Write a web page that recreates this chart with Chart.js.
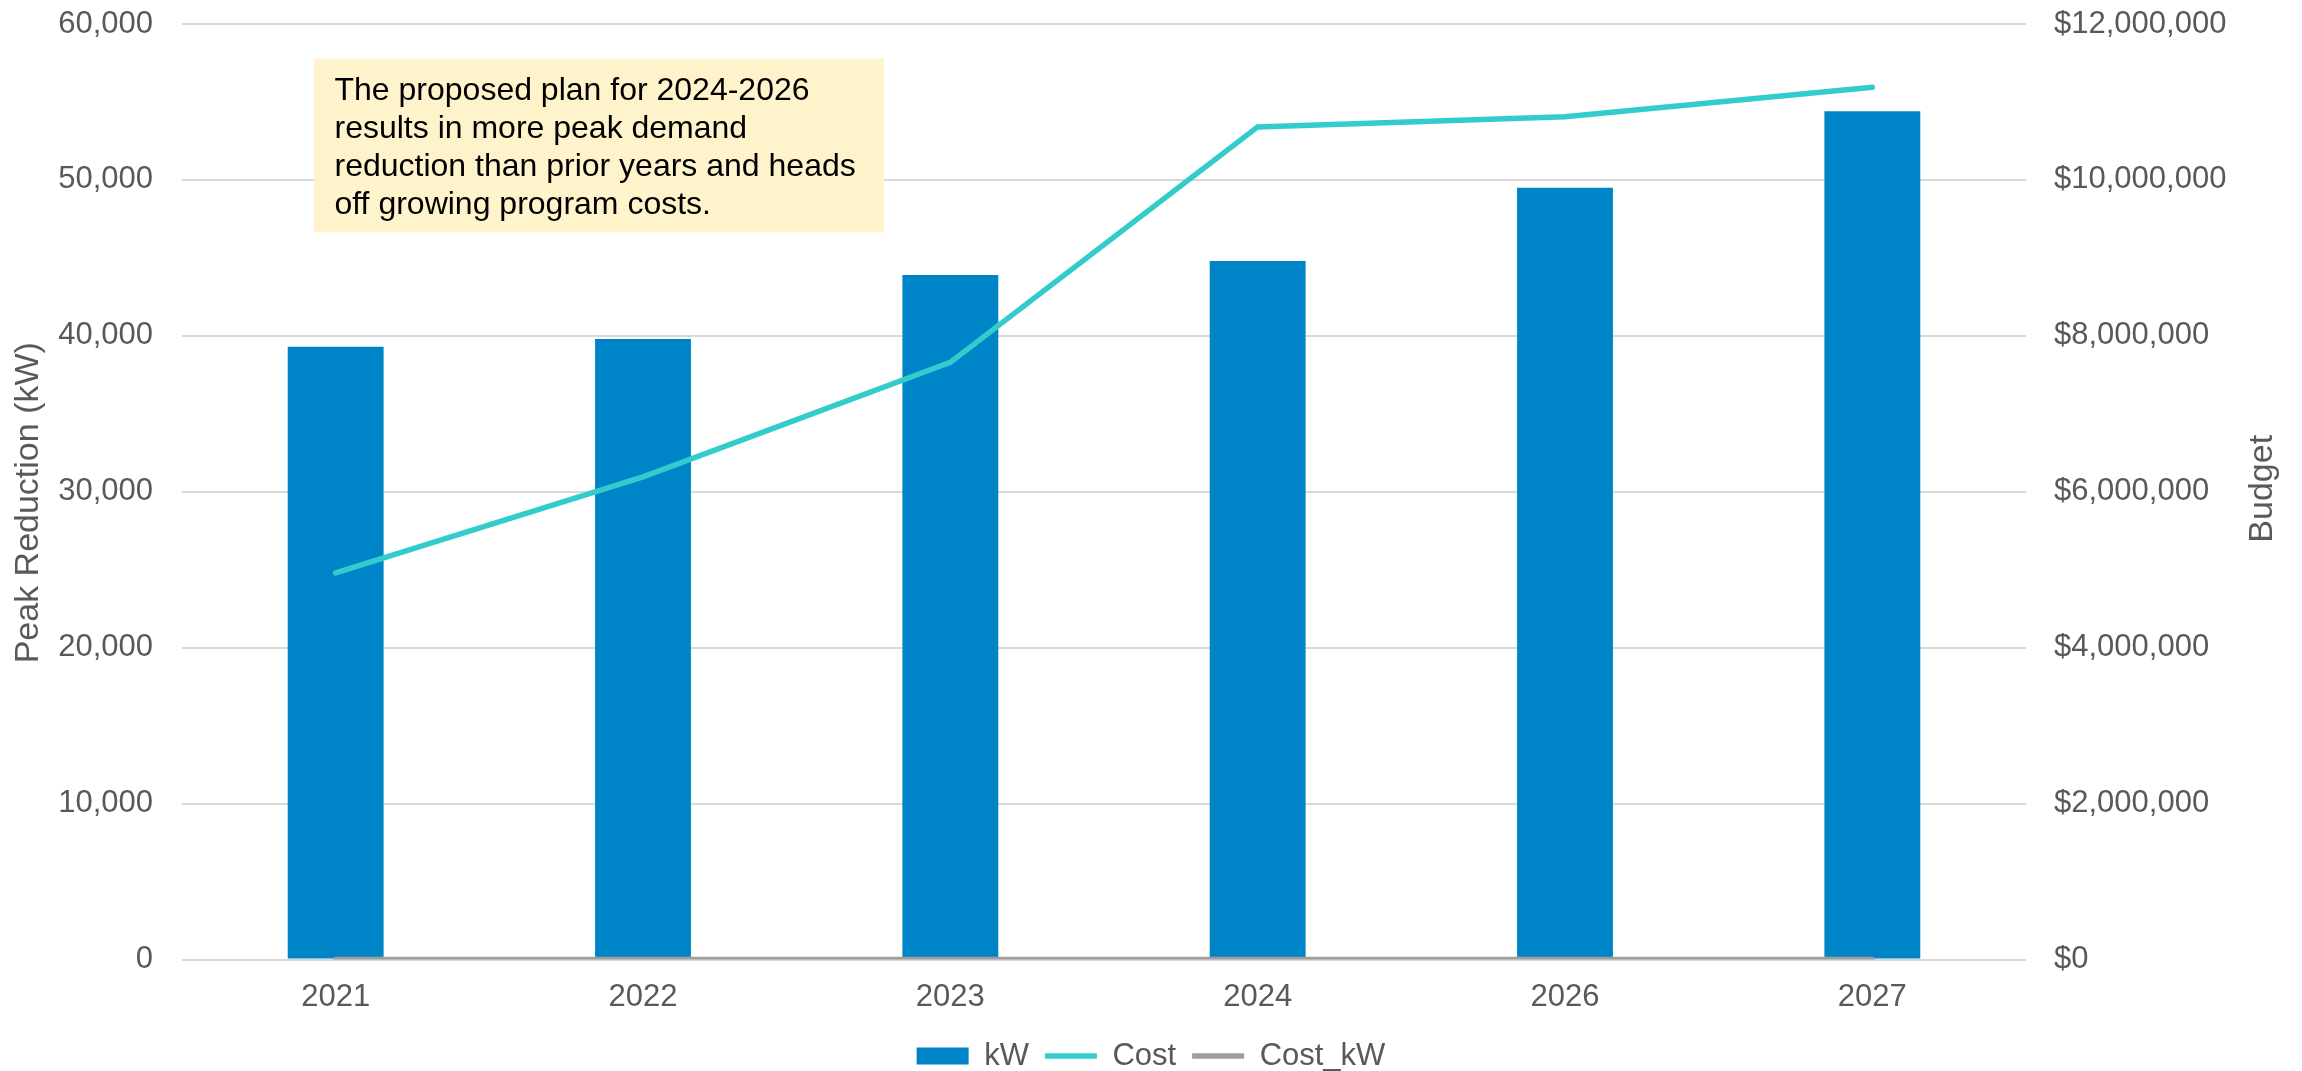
<!DOCTYPE html>
<html>
<head>
<meta charset="utf-8">
<script src="https://cdn.jsdelivr.net/npm/chart.js@4.4.1/dist/chart.umd.min.js"></script>
<style>
    html, body { margin: 0; padding: 0; background: #ffffff; }
    #wrap { width: 2302px; height: 1071px; position: relative; }
</style>
</head>
<body>
<div id="wrap"><canvas id="combo_chart"></canvas></div>
<script>
// data
const years = ['2021', '2022', '2023', '2024', '2026', '2027'];
const peakKw = [39300, 39800, 43900, 44800, 49500, 54400];
const budget = [4960000, 6190000, 7660000, 10680000, 10810000, 11190000];
const costPerKw = [126, 156, 174, 238, 218, 206];
const kwTicks = [0, 10000, 20000, 30000, 40000, 50000, 60000];
const budgetTicks = [0, 2000000, 4000000, 6000000, 8000000, 10000000, 12000000];
const noteLines = [
    'The proposed plan for 2024-2026',
    'results in more peak demand',
    'reduction than prior years and heads',
    'off growing program costs.'
];

const FONT = "'Liberation Sans', Arial, sans-serif";
const GREY_TEXT = '#595959';

function drawVerticalTitle(ctx, text, x, y) {
    ctx.save();
    ctx.translate(x, y);
    ctx.rotate(-Math.PI / 2);
    ctx.fillStyle = GREY_TEXT;
    ctx.font = '34px ' + FONT;
    ctx.textAlign = 'center';
    ctx.textBaseline = 'middle';
    ctx.fillText(text, 0, 0);
    ctx.restore();
}

// yellow note box + both axis titles (both read bottom to top)
const notePlugin = {
    id: 'noteBox',
    afterDraw(chart) {
        const { ctx, chartArea } = chart;
        ctx.save();
        const x = chartArea.left + 132;
        const y = chartArea.top + 34.5;
        ctx.fillStyle = '#FFF3CC';
        ctx.fillRect(x, y, 570, 174);
        ctx.fillStyle = '#000000';
        ctx.font = '32px ' + FONT;
        ctx.textBaseline = 'alphabetic';
        ctx.textAlign = 'left';
        noteLines.forEach((line, i) => {
            ctx.fillText(line, x + 20.5, y + 41 + i * 38.3);
        });
        ctx.restore();

        const midY = (chartArea.top + chartArea.bottom) / 2;
        drawVerticalTitle(ctx, 'Peak Reduction (kW)', 28.5, midY + 11);
        drawVerticalTitle(ctx, 'Budget', chart.width - 39, midY - 3);
    }
};

// fixed axis width, and don't let tick padding push the plot down
const fitSide = (w) => (scale) => {
    scale.width = w;
    scale.paddingTop = 18;
    scale.paddingBottom = 18;
};

const ctx = document.getElementById('combo_chart').getContext('2d');
const combo_chart = new Chart(ctx, {
    data: {
        labels: years,
        datasets: [
            {
                type: 'bar',
                label: 'kW',
                data: peakKw,
                backgroundColor: '#0084C8',
                borderWidth: 0,
                yAxisID: 'y',
                order: 3,
                pointStyle: 'rect',
                barPercentage: 0.312,
                categoryPercentage: 1
            },
            {
                type: 'line',
                label: 'Cost',
                data: budget,
                borderColor: '#33CCCC',
                backgroundColor: '#33CCCC',
                borderWidth: 5.5,
                borderCapStyle: 'round',
                pointRadius: 0,
                pointStyle: 'line',
                tension: 0,
                fill: false,
                yAxisID: 'y1',
                order: 1
            },
            {
                type: 'line',
                label: 'Cost_kW',
                data: costPerKw,
                borderColor: '#9E9E9E',
                backgroundColor: '#9E9E9E',
                borderWidth: 5.5,
                borderCapStyle: 'round',
                pointRadius: 0,
                pointStyle: 'line',
                tension: 0,
                fill: false,
                yAxisID: 'y1',
                order: 2
            }
        ]
    },
    options: {
        responsive: true,
        maintainAspectRatio: false,
        animation: false,
        layout: {
            padding: { top: 24, right: 0, bottom: -10.5, left: 0 }
        },
        scales: {
            x: {
                grid: { display: false },
                border: { display: false },
                ticks: {
                    color: GREY_TEXT,
                    font: { family: FONT, size: 31 },
                    padding: 11
                },
                afterFit: (scale) => { scale.height = 65; }
            },
            y: {
                position: 'left',
                min: kwTicks[0],
                max: kwTicks[kwTicks.length - 1],
                afterBuildTicks: (scale) => { scale.ticks = kwTicks.map(v => ({ value: v })); },
                grid: { color: '#D9D9D9', lineWidth: 2, drawTicks: false },
                border: { display: false },
                ticks: {
                    color: GREY_TEXT,
                    font: { family: FONT, size: 31 },
                    padding: 29,
                    callback: (v) => Number(v).toLocaleString('en-US')
                },
                afterFit: fitSide(182)
            },
            y1: {
                position: 'right',
                min: budgetTicks[0],
                max: budgetTicks[budgetTicks.length - 1],
                afterBuildTicks: (scale) => { scale.ticks = budgetTicks.map(v => ({ value: v })); },
                grid: { display: false, drawTicks: false },
                border: { display: false },
                ticks: {
                    color: GREY_TEXT,
                    font: { family: FONT, size: 31 },
                    padding: 28,
                    callback: (v) => '$' + Number(v).toLocaleString('en-US')
                },
                afterFit: fitSide(276)
            }
        },
        plugins: {
            legend: {
                position: 'bottom',
                labels: {
                    color: GREY_TEXT,
                    font: { family: FONT, size: 31 },
                    usePointStyle: true,
                    pointStyleWidth: 52,
                    boxHeight: 17,
                    padding: 16,
                    sort: (a, b) => a.datasetIndex - b.datasetIndex // keep kW, Cost, Cost_kW order
                }
            },
            tooltip: { enabled: false }
        }
    },
    plugins: [notePlugin]
});
</script>
</body>
</html>
